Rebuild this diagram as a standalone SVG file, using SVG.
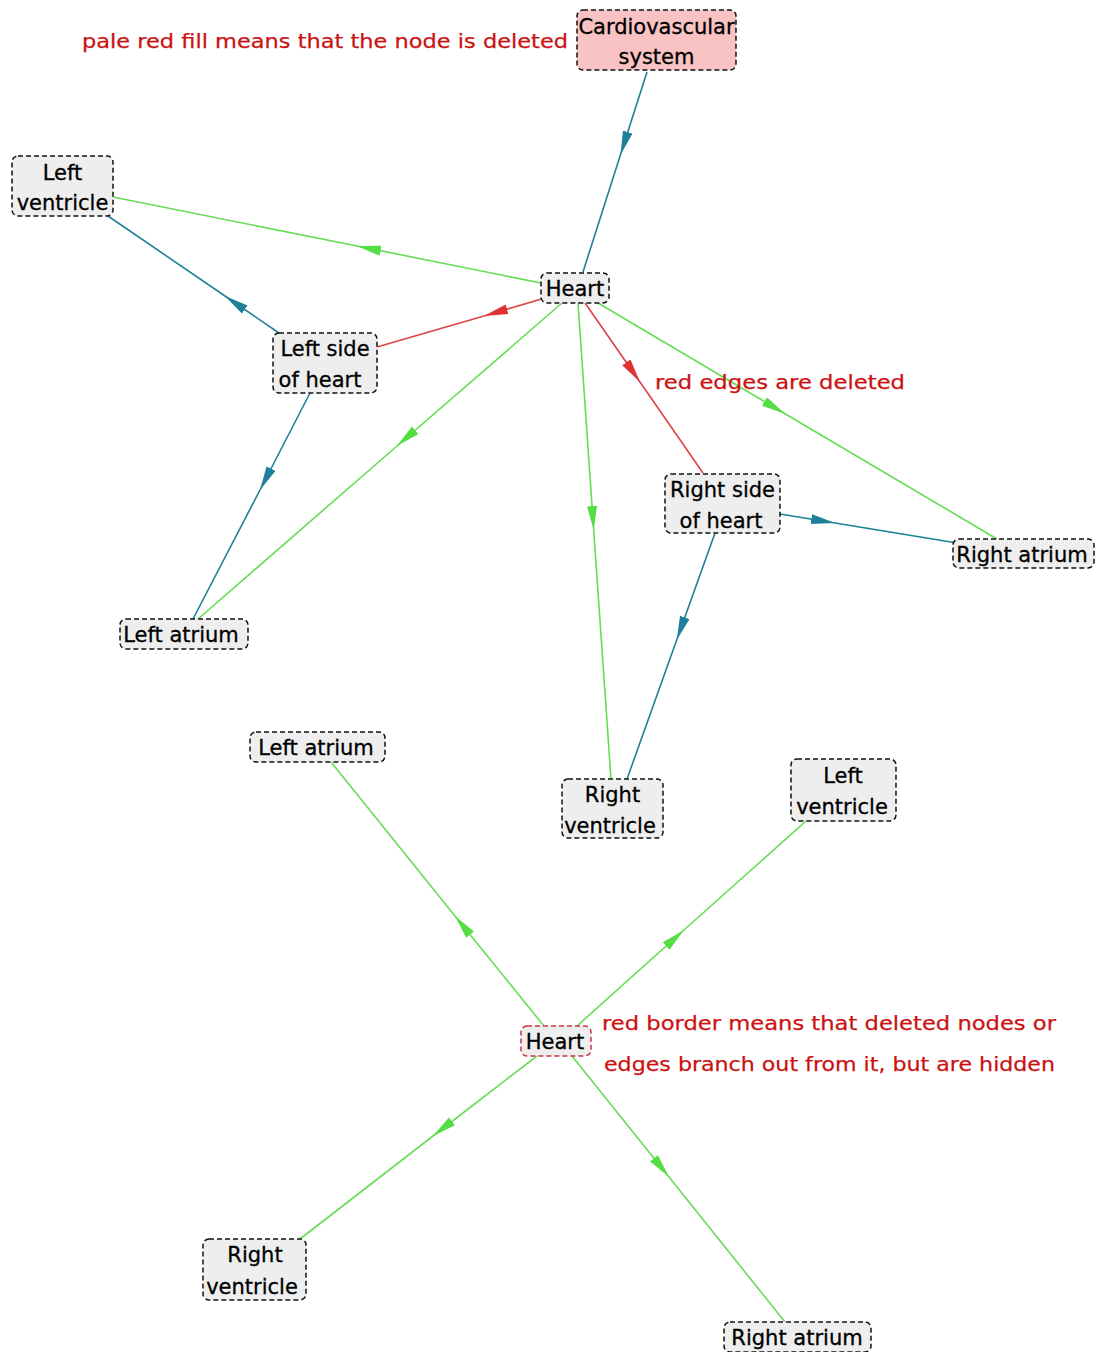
<svg xmlns="http://www.w3.org/2000/svg" width="1100" height="1352" viewBox="0 0 1100 1352">
  <style>
    .box { fill: #eeeeee; stroke: #111111; stroke-width: 1.5; stroke-dasharray: 5 3; }
    .deleted { fill: #f9c3c3; }
    .hidden-branch { stroke: #cc3344; }
    .lbl { font-family: "DejaVu Sans", "Liberation Sans", sans-serif; font-size: 21px; fill: #000000; stroke: #000000; stroke-width: 0.3; text-anchor: middle; }
    .note { font-family: "DejaVu Sans", "Liberation Sans", sans-serif; font-size: 20px; fill: #cc1111; stroke: #cc1111; stroke-width: 0.25; }
    .e { fill: none; stroke-width: 1.6; }
    .teal { stroke: #1f8099; marker-mid: url(#arrTeal); }
    .green { stroke: #66dd55; marker-mid: url(#arrGreen); }
    .red { stroke: #dd4444; marker-mid: url(#arrRed); }
  </style>
  <defs>
    <marker id="arrTeal" markerUnits="userSpaceOnUse" markerWidth="26" markerHeight="12" refX="24" refY="5" orient="auto">
      <path d="M0,0 L24,5 L0,10 z" fill="#1f8099"/>
    </marker>
    <marker id="arrGreen" markerUnits="userSpaceOnUse" markerWidth="26" markerHeight="12" refX="24" refY="5" orient="auto">
      <path d="M0,0 L24,5 L0,10 z" fill="#55dd44"/>
    </marker>
    <marker id="arrRed" markerUnits="userSpaceOnUse" markerWidth="26" markerHeight="12" refX="24" refY="5" orient="auto">
      <path d="M0,0 L24,5 L0,10 z" fill="#dd3333"/>
    </marker>
  </defs>
  <rect width="1100" height="1352" fill="#ffffff"/>

  <!-- edges: start, arrow tip, end -->
  <g id="connectors">
    <path class="e teal" d="M647,72 L620.4,155 L583,272"/>
    <path class="e green" d="M541,283 L357,246 L113,197"/>
    <path class="e teal" d="M279,333 L225,296 L108,216"/>
    <path class="e red" d="M545,298 L484,316 L377,347"/>
    <path class="e green" d="M562,303 L397,446 L198,619"/>
    <path class="e teal" d="M310,393 L260,490 L193,619"/>
    <path class="e green" d="M578,303 L593.7,530 L611,779"/>
    <path class="e red" d="M585,303 L640,382 L703,473"/>
    <path class="e green" d="M598,303 L785,413.7 L997,539"/>
    <path class="e teal" d="M780,514 L835,523 L957,543"/>
    <path class="e teal" d="M715,533 L676.7,640 L627,779"/>

    <path class="e green" d="M544,1026 L455,916 L331,762"/>
    <path class="e green" d="M577,1026 L684,930 L806,821"/>
    <path class="e green" d="M537,1056 L433,1136 L300,1239"/>
    <path class="e green" d="M572,1056 L669,1177 L785,1322"/>
  </g>

  <!-- upper graph -->
  <g id="n-cardiovascular">
    <rect class="box deleted" x="577" y="10" width="159" height="60" rx="6"/>
    <text class="lbl" x="656.5" y="34">Cardiovascular</text>
    <text class="lbl" x="656.5" y="64">system</text>
  </g>
  <g id="n-left-ventricle-1">
    <rect class="box" x="12" y="156" width="101" height="60" rx="6"/>
    <text class="lbl" x="62.5" y="180">Left</text>
    <text class="lbl" x="62.5" y="210">ventricle</text>
  </g>
  <g id="n-heart-1">
    <rect class="box" x="541" y="273" width="68" height="30" rx="6"/>
    <text class="lbl" x="575" y="296">Heart</text>
  </g>
  <g id="n-left-side">
    <rect class="box" x="273" y="333" width="104" height="60" rx="6"/>
    <text class="lbl" x="325" y="356">Left side</text>
    <text class="lbl" x="320" y="387">of heart</text>
  </g>
  <g id="n-right-side">
    <rect class="box" x="665" y="474" width="115" height="59" rx="6"/>
    <text class="lbl" x="722.5" y="497">Right side</text>
    <text class="lbl" x="721" y="528">of heart</text>
  </g>
  <g id="n-right-atrium-1">
    <rect class="box" x="953" y="539" width="141" height="29" rx="6"/>
    <text class="lbl" x="1022" y="562">Right atrium</text>
  </g>
  <g id="n-left-atrium-1">
    <rect class="box" x="120" y="619" width="128" height="30" rx="6"/>
    <text class="lbl" x="181" y="642">Left atrium</text>
  </g>
  <g id="n-right-ventricle-1">
    <rect class="box" x="562" y="779" width="101" height="59" rx="6"/>
    <text class="lbl" x="612.5" y="802">Right</text>
    <text class="lbl" x="610" y="833">ventricle</text>
  </g>

  <!-- lower graph -->
  <g id="n-left-atrium-2">
    <rect class="box" x="250" y="732" width="135" height="30" rx="6"/>
    <text class="lbl" x="316" y="755">Left atrium</text>
  </g>
  <g id="n-left-ventricle-2">
    <rect class="box" x="791" y="759" width="105" height="62" rx="6"/>
    <text class="lbl" x="843" y="783">Left</text>
    <text class="lbl" x="842" y="814">ventricle</text>
  </g>
  <g id="n-heart-2">
    <rect class="box hidden-branch" x="521" y="1026" width="70" height="30" rx="6"/>
    <text class="lbl" x="555" y="1049">Heart</text>
  </g>
  <g id="n-right-ventricle-2">
    <rect class="box" x="203" y="1239" width="103" height="61" rx="6"/>
    <text class="lbl" x="255" y="1262">Right</text>
    <text class="lbl" x="252" y="1294">ventricle</text>
  </g>
  <g id="n-right-atrium-2">
    <rect class="box" x="724" y="1322" width="147" height="30" rx="6"/>
    <text class="lbl" x="797" y="1345">Right atrium</text>
  </g>

  <!-- legend notes -->
  <g id="notes">
    <text class="note" x="82" y="48" textLength="486" lengthAdjust="spacingAndGlyphs">pale red fill means that the node is deleted</text>
    <text class="note" x="655" y="389" textLength="250" lengthAdjust="spacingAndGlyphs">red edges are deleted</text>
    <text class="note" x="602" y="1030" textLength="454" lengthAdjust="spacingAndGlyphs">red border means that deleted nodes or</text>
    <text class="note" x="604" y="1071" textLength="451" lengthAdjust="spacingAndGlyphs">edges branch out from it, but are hidden</text>
  </g>
</svg>
